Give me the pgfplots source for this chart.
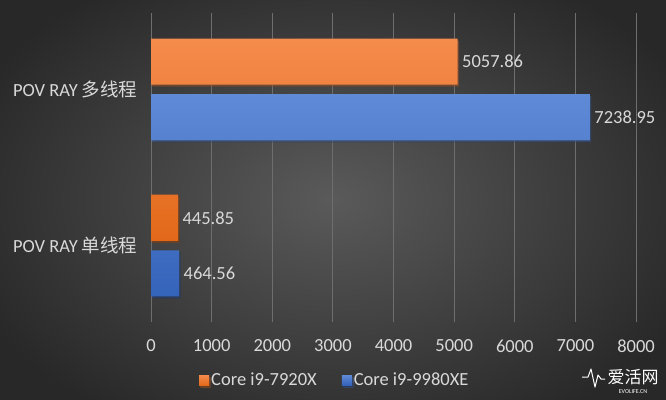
\documentclass[border=0pt]{standalone}
\usepackage{pgfplots}
\pgfplotsset{compat=1.18}
\usepackage{fontspec}
\setmainfont{Carlito}
\newfontfamily\cjk{Noto Sans CJK SC}
\definecolor{bgin}{HTML}{5A5A5A}
\definecolor{bgout}{HTML}{282828}
\definecolor{txt}{HTML}{D9D9D9}
\definecolor{gridc}{HTML}{6E6E6E}
\definecolor{orT}{HTML}{F58B4C}
\definecolor{orB}{HTML}{E2691A}
\definecolor{blT}{HTML}{5F8AD6}
\definecolor{blB}{HTML}{3463BA}
\begin{document}
\begin{tikzpicture}[x=1bp,y=1bp]
\useasboundingbox (0,0) rectangle (666,399);
\shade[inner color=bgin, outer color=bgout] (-60,-60) rectangle (726,459);
\begin{axis}[
  at={(151bp,77bp)}, anchor=south west,
  scale only axis, width=485bp, height=309bp,
  xmin=0, xmax=8000, ymin=-0.49, ymax=1.49,
  y dir=reverse,
  axis line style={draw=none},
  xtick={0,1000,...,8000},
  ytick={0,1},
  yticklabels={POV RAY {\cjk 多线程}, POV RAY {\cjk 单线程}},
  major tick length=0pt,
  xmajorgrids,
  grid style={gridc, line width=0.8bp},
  tick label style={txt, font=\fontsize{18.5bp}{20bp}\selectfont},
  /pgf/number format/assume math mode=true,
  /pgf/number format/1000 sep={},
  xticklabel style={yshift=-14bp},
  yticklabel style={xshift=-10bp},
  xbar, bar width=0.295,
  nodes near coords,
  point meta=explicit symbolic,
  every node near coord/.append style={txt, anchor=west, font=\fontsize{18.5bp}{20bp}\selectfont, xshift=1bp},
  legend style={at={(0.379,-0.188)}, anchor=center, draw=none, fill=none,
    text=txt, font=\fontsize{18.5bp}{20bp}\selectfont, legend columns=2,
    /tikz/every even column/.append style={column sep=23bp}},
  legend image code/.code={\fill[#1] (0bp,-5bp) rectangle (10bp,5bp);},
  clip=false,
]
\addplot[draw=none, top color=orT, bottom color=orB, bar shift=-0.178,
  preaction={fill=black, fill opacity=0.35, transform canvas={shift={(1.5bp,-2bp)}}}]
  coordinates {(5057.86,0)[5057.86] (445.85,1)[445.85]};
\addlegendentry{Core i9-7920X}
\addplot[draw=none, top color=blT, bottom color=blB, bar shift=0.178,
  preaction={fill=black, fill opacity=0.35, transform canvas={shift={(1.5bp,-2bp)}}}]
  coordinates {(7238.95,0)[7238.95] (464.56,1)[464.56]};
\addlegendentry{Core i9-9980XE}
\end{axis}
\draw[white, line width=1bp, line join=round] (582,22) -- (588,22) -- (591,30) -- (595,12) -- (598,24) -- (601,20) -- (605,20);
\node[white, font=\fontsize{17bp}{17bp}\selectfont\cjk, anchor=center] at (633,22) {爱活网};
\node[white, font=\fontsize{6bp}{6bp}\selectfont, anchor=center] at (633,7) {EVOLIFE.CN};
\end{tikzpicture}
\end{document}
